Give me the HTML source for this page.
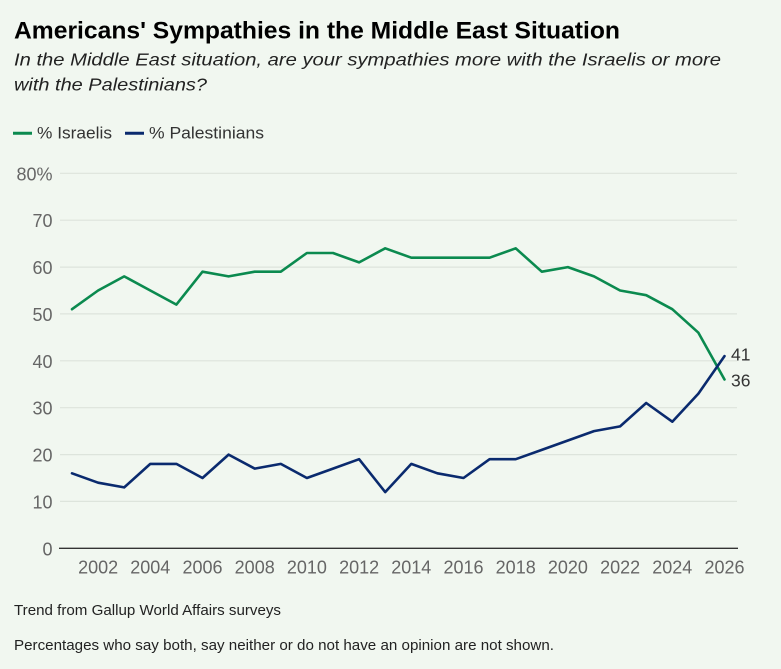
<!DOCTYPE html>
<html>
<head>
<meta charset="utf-8">
<style>
  html, body { margin: 0; padding: 0; background: #f1f7f0; }
  svg { display: block; }
  text { font-family: "Liberation Sans", Arial, sans-serif; }
</style>
</head>
<body>
<svg width="781" height="669" viewBox="0 0 781 669" xmlns="http://www.w3.org/2000/svg">
  <rect x="0" y="0" width="781" height="669" fill="#f1f7f0"/>

  <!-- Title -->
  <text x="14" y="38.3" font-size="24" font-weight="bold" fill="#000" textLength="606" lengthAdjust="spacingAndGlyphs">Americans' Sympathies in the Middle East Situation</text>
  <text x="14" y="65.7" font-size="17.5" font-style="italic" fill="#222" textLength="707" lengthAdjust="spacingAndGlyphs">In the Middle East situation, are your sympathies more with the Israelis or more</text>
  <text x="14" y="90.7" font-size="17.5" font-style="italic" fill="#222" textLength="193" lengthAdjust="spacingAndGlyphs">with the Palestinians?</text>

  <!-- Legend -->
  <line x1="13" y1="133.3" x2="32" y2="133.3" stroke="#0b8a4f" stroke-width="3"/>
  <text x="37" y="138.5" font-size="17" fill="#333" textLength="75" lengthAdjust="spacingAndGlyphs">% Israelis</text>
  <line x1="125" y1="133.3" x2="144" y2="133.3" stroke="#0a2a6e" stroke-width="3"/>
  <text x="149" y="138.5" font-size="17" fill="#333" textLength="115" lengthAdjust="spacingAndGlyphs">% Palestinians</text>

  <!-- Gridlines -->
  <g stroke="#dde4dc" stroke-width="1.2">
    <line x1="60" y1="173.3" x2="737" y2="173.3"/>
    <line x1="60" y1="220.2" x2="737" y2="220.2"/>
    <line x1="60" y1="267.1" x2="737" y2="267.1"/>
    <line x1="60" y1="313.9" x2="737" y2="313.9"/>
    <line x1="60" y1="360.8" x2="737" y2="360.8"/>
    <line x1="60" y1="407.7" x2="737" y2="407.7"/>
    <line x1="60" y1="454.6" x2="737" y2="454.6"/>
    <line x1="60" y1="501.4" x2="737" y2="501.4"/>
  </g>
  <line x1="59" y1="548.3" x2="738" y2="548.3" stroke="#333" stroke-width="1.3"/>

  <!-- Y tick labels -->
  <g font-size="18" fill="#666" text-anchor="end">
    <text x="52.5" y="180.5">80%</text>
    <text x="52.5" y="227.2">70</text>
    <text x="52.5" y="274.1">60</text>
    <text x="52.5" y="320.9">50</text>
    <text x="52.5" y="367.8">40</text>
    <text x="52.5" y="414.7">30</text>
    <text x="52.5" y="461.6">20</text>
    <text x="52.5" y="508.4">10</text>
    <text x="52.5" y="555.3">0</text>
  </g>

  <!-- X tick labels -->
  <g font-size="18" fill="#666" text-anchor="middle">
    <text x="98.1" y="573.5">2002</text>
    <text x="150.3" y="573.5">2004</text>
    <text x="202.5" y="573.5">2006</text>
    <text x="254.7" y="573.5">2008</text>
    <text x="306.9" y="573.5">2010</text>
    <text x="359.1" y="573.5">2012</text>
    <text x="411.3" y="573.5">2014</text>
    <text x="463.5" y="573.5">2016</text>
    <text x="515.7" y="573.5">2018</text>
    <text x="567.9" y="573.5">2020</text>
    <text x="620.1" y="573.5">2022</text>
    <text x="672.3" y="573.5">2024</text>
    <text x="724.5" y="573.5">2026</text>
  </g>

  <!-- Israelis -->
  <polyline fill="none" stroke="#0b8a4f" stroke-width="2.6" stroke-linejoin="round" stroke-linecap="round"
    points="72,309.2 98.1,290.5 124.2,276.4 150.3,290.5 176.4,304.6 202.5,271.7 228.6,276.4 254.7,271.7 280.8,271.7 306.9,253.0 333.0,253.0 359.1,262.4 385.2,248.3 411.3,257.7 437.4,257.7 463.5,257.7 489.6,257.7 515.7,248.3 541.8,271.7 567.9,267.1 594.0,276.4 620.1,290.5 646.2,295.2 672.3,309.2 698.4,332.7 724.5,379.5"/>

  <!-- Palestinians -->
  <polyline fill="none" stroke="#0a2a6e" stroke-width="2.6" stroke-linejoin="round" stroke-linecap="round"
    points="72,473.3 98.1,482.7 124.2,487.4 150.3,463.9 176.4,463.9 202.5,478.0 228.6,454.6 254.7,468.6 280.8,463.9 306.9,478.0 333.0,468.6 359.1,459.2 385.2,492.1 411.3,463.9 437.4,473.3 463.5,478.0 489.6,459.2 515.7,459.2 541.8,449.9 567.9,440.5 594.0,431.1 620.1,426.4 646.2,403.0 672.3,421.7 698.4,393.6 724.5,356.1"/>

  <!-- End labels -->
  <text x="731" y="360.5" font-size="17.5" fill="#333">41</text>
  <text x="731" y="386.7" font-size="17.5" fill="#333">36</text>

  <!-- Footer -->
  <text x="14" y="615" font-size="15" fill="#222" textLength="267" lengthAdjust="spacingAndGlyphs">Trend from Gallup World Affairs surveys</text>
  <text x="14" y="650" font-size="15" fill="#222" textLength="540" lengthAdjust="spacingAndGlyphs">Percentages who say both, say neither or do not have an opinion are not shown.</text>
</svg>
</body>
</html>
